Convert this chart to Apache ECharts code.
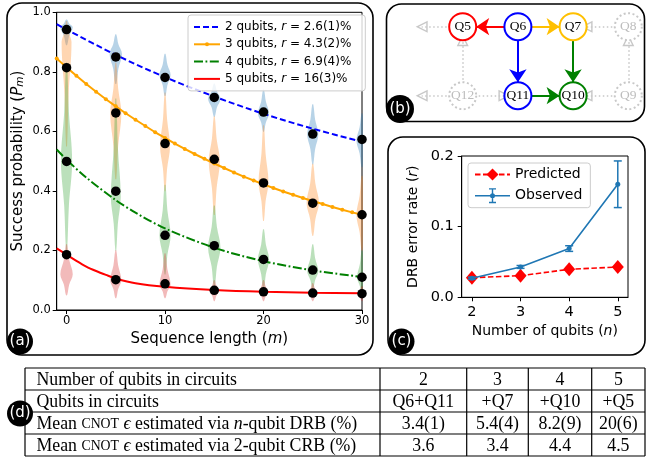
<!DOCTYPE html>
<html><head><meta charset="utf-8">
<script src="https://cdn.jsdelivr.net/npm/echarts@6/dist/echarts.min.js"></script>
<style>html,body{margin:0;padding:0;background:#fff}#c{width:647px;height:461px}</style>
</head><body><div id="c"></div>
<script>
// ---------- Panel (a) data ----------
const seqLen = [0, 5, 10, 15, 20, 25, 30];
const mean2q = [0.942, 0.850, 0.781, 0.714, 0.665, 0.591, 0.573];
const mean3q = [0.814, 0.662, 0.559, 0.506, 0.427, 0.359, 0.320];
const mean4q = [0.499, 0.399, 0.251, 0.216, 0.170, 0.134, 0.110];
const mean5q = [0.186, 0.102, 0.088, 0.066, 0.061, 0.057, 0.055];

const fitM2 = [-1, 0, 5, 10, 15, 20, 25, 30];
const fit2q = [0.960, 0.942, 0.857, 0.782, 0.717, 0.659, 0.609, 0.565];
const fitM3 = [-1,0,1,2,3,4,5,6,7,8,9,10,11,12,13,14,15,16,17,18,19,20,21,22,23,24,25,26,27,28,29,30];
const fit3q = [0.845,0.815,0.787,0.759,0.733,0.708,0.684,0.661,0.639,0.618,0.597,0.578,0.559,0.541,0.524,0.508,0.492,0.477,0.462,0.448,0.435,0.422,0.410,0.398,0.387,0.376,0.366,0.356,0.346,0.337,0.328,0.320];
const fitM4 = [-1, 0, 2, 5, 7, 10, 15, 20, 25, 30];
const fit4q = [0.539, 0.505, 0.445, 0.369, 0.327, 0.274, 0.209, 0.164, 0.133, 0.111];
const fitM5 = [-1, 0, 1, 2, 3, 4, 5, 7, 10, 15, 20, 25, 30];
const fit5q = [0.207, 0.186, 0.165, 0.146, 0.131, 0.118, 0.106, 0.090, 0.078, 0.067, 0.061, 0.058, 0.056];

// violin: [m, low, peak, high, relative width]
const violin2q = [[0,0.89,0.95,0.975,1],[5,0.76,0.86,0.925,1],[10,0.72,0.79,0.86,0.9],[15,0.65,0.71,0.76,1],[20,0.60,0.66,0.74,0.9],[25,0.49,0.59,0.69,0.9],[30,0.48,0.57,0.66,0.9]];
const violin3q = [[0,0.55,0.90,0.97,0.8],[5,0.44,0.66,0.83,0.9],[10,0.40,0.55,0.73,0.8],[15,0.32,0.50,0.65,0.9],[20,0.30,0.43,0.62,0.8],[25,0.25,0.36,0.49,1],[30,0.20,0.32,0.45,0.9]];
const violin4q = [[0,0.20,0.50,0.83,0.9],[5,0.20,0.38,0.71,0.8],[10,0.12,0.25,0.42,0.9],[15,0.08,0.21,0.35,1],[20,0.07,0.17,0.27,0.9],[25,0.07,0.13,0.22,0.9],[30,0.05,0.11,0.20,0.8]];
const violin5q = [[0,0.05,0.12,0.22,1],[5,0.04,0.10,0.20,0.9],[10,0.04,0.085,0.19,0.9],[15,0.03,0.065,0.10,0.8],[20,0.03,0.06,0.10,0.8],[25,0.03,0.055,0.09,0.8],[30,0.03,0.055,0.08,0.8]];

const seriesLabels = ['2 qubits', '3 qubits', '4 qubits', '5 qubits'];
const rateLabels = ['2.6(1)%', '4.3(2)%', '6.9(4)%', '16(3)%'];
const xTicksA = [0, 10, 20, 30];

// ---------- Panel (b) data ----------
const qubitNames = ['Q5', 'Q6', 'Q7', 'Q8', 'Q12', 'Q11', 'Q10', 'Q9'];
const qubitCol = [1, 2, 3, 4, 1, 2, 3, 4];
const qubitRow = [0, 0, 0, 0, 1, 1, 1, 1];
const outerNames = ['W0', 'W1'];
const outerCol = [0.257, 0.257];
const outerRow = [0, 1];
const activeLinks = [['Q6','Q5'], ['Q6','Q7'], ['Q6','Q11'], ['Q7','Q10'], ['Q11','Q10']];
const idleLinks = [['Q5','W0'], ['Q12','W1'], ['Q12','Q5'], ['Q12','Q11'], ['Q8','Q7'], ['Q9','Q10'], ['Q9','Q8']];

// ---------- Panel (c) data ----------
const nQubits = [2, 3, 4, 5];
const predicted = [0.0277, 0.0306, 0.0396, 0.0429];
const observed = [0.027, 0.043, 0.069, 0.160];
const observedErr = [0.0015, 0.002, 0.004, 0.033];
const xTicksC = [2, 3, 4, 5];

// ---------- Panel (d) data ----------
const rowHeaders = ['Number of qubits in circuits', 'Qubits in circuits',
  'Mean {sc|CNOT} {i|ϵ} estimated via {i|n}-qubit DRB (%)',
  'Mean {sc|CNOT} {i|ϵ} estimated via 2-qubit CRB (%)'];
const rowQubitCount = ['2', '3', '4', '5'];
const rowQubitsAdded = ['Q6+Q11', '+Q7', '+Q10', '+Q5'];
const rowDrbEps = ['3.4(1)', '5.4(4)', '8.2(9)', '20(6)'];
const rowCrbEps = ['3.6', '3.4', '4.4', '4.5'];

// ---------- styles ----------
const SANS = 'DejaVu Sans';
const SERIF = 'Liberation Serif';
const fitColors = ['#0000ff', '#ffa500', '#008000', '#ff0000'];
const violinColors = ['rgba(31,119,180,0.32)', 'rgba(255,127,14,0.32)', 'rgba(44,160,44,0.32)', 'rgba(214,39,40,0.32)'];
const nodeColor = {Q5:'#ff0000', Q6:'#0000ff', Q7:'#ffc000', Q10:'#008000', Q11:'#0000ff'};
const linkColor = {'Q6-Q5':'#ff0000', 'Q6-Q7':'#ffc000', 'Q6-Q11':'#0000ff', 'Q7-Q10':'#008000', 'Q11-Q10':'#008000'};
const GRAY = '#c8c8c8';
const hollowTri = 'path://M5,0 L10,10 L0,10 Z M5,2.6 L1.9,8.8 L8.1,8.8 Z';

const chart = echarts.init(document.getElementById('c'), null, {renderer: 'canvas', width: 647, height: 461});

function violinRender(color) {
  return function (params, api) {
    const m = api.value(0), lo = api.value(1), pk = api.value(2), hi = api.value(3);
    const w = api.value(4) * 6.2;
    const ys = [lo, lo + 0.5 * (pk - lo), pk, pk + 0.5 * (hi - pk), hi];
    const hs = [0.1, 0.42, 1, 0.42, 0.1];
    const pts = [];
    for (let i = 0; i < 5; i++) { const c = api.coord([m, ys[i]]); pts.push([c[0] - hs[i] * w, c[1]]); }
    for (let i = 4; i >= 0; i--) { const c = api.coord([m, ys[i]]); pts.push([c[0] + hs[i] * w, c[1]]); }
    return {type: 'polygon', shape: {points: pts, smooth: 0.35}, style: {fill: color}};
  };
}

const meansAll = [mean2q, mean3q, mean4q, mean5q];
const violinsAll = [violin2q, violin3q, violin4q, violin5q];
const fitsAll = [[fitM2, fit2q], [fitM3, fit3q], [fitM4, fit4q], [fitM5, fit5q]];
const fitLineType = [[6, 3], 'solid', [9, 2.5, 1.8, 2.5], 'solid'];

const series = [];
violinsAll.forEach((v, k) => series.push({
  type: 'custom', xAxisIndex: 0, yAxisIndex: 0, clip: true, z: 1, silent: true,
  renderItem: violinRender(violinColors[k]), data: v
}));
fitsAll.forEach(([ms, vs], k) => series.push({
  type: 'line', name: seriesLabels[k], xAxisIndex: 0, yAxisIndex: 0, z: 3,
  data: ms.map((m, i) => [m, vs[i]]), smooth: k === 1 ? false : 0.3,
  // only the 3-qubit fit carries visible markers
  symbol: k === 1 ? 'circle' : 'line', symbolSize: 4, showSymbol: k === 1,
  itemStyle: {color: fitColors[k]},
  lineStyle: {color: fitColors[k], width: 2, type: fitLineType[k]}
}));
meansAll.forEach((vs, k) => series.push({
  type: 'scatter', xAxisIndex: 0, yAxisIndex: 0, z: 5, symbolSize: 9.5,
  itemStyle: {color: '#000', opacity: 1}, data: seqLen.map((m, i) => [m, vs[i]])
}));

// panel (c)
series.push({
  type: 'line', name: 'Predicted', xAxisIndex: 1, yAxisIndex: 1, z: 4,
  data: nQubits.map((n, i) => [n, predicted[i]]), symbol: 'diamond', symbolSize: [12, 14],
  itemStyle: {color: '#ff0000'}, lineStyle: {color: '#ff0000', width: 1.6, type: [5.5, 2.5]}
});
series.push({
  type: 'line', name: 'Observed', xAxisIndex: 1, yAxisIndex: 1, z: 5,
  data: nQubits.map((n, i) => [n, observed[i]]), symbol: 'circle', symbolSize: 5,
  itemStyle: {color: '#1f77b4'}, lineStyle: {color: '#1f77b4', width: 1.6}
});
series.push({
  type: 'custom', xAxisIndex: 1, yAxisIndex: 1, z: 5, silent: true,
  data: nQubits.map((n, i) => [n, observed[i] - observedErr[i], observed[i] + observedErr[i]]),
  renderItem: function (params, api) {
    const x = api.value(0);
    const a = api.coord([x, api.value(1)]), b = api.coord([x, api.value(2)]);
    const cw = 4, st = {stroke: '#1f77b4', lineWidth: 1.5};
    return {type: 'group', children: [
      {type: 'line', shape: {x1: a[0], y1: a[1], x2: b[0], y2: b[1]}, style: st},
      {type: 'line', shape: {x1: a[0] - cw, y1: a[1], x2: a[0] + cw, y2: a[1]}, style: st},
      {type: 'line', shape: {x1: b[0] - cw, y1: b[1], x2: b[0] + cw, y2: b[1]}, style: st}
    ]};
  }
});

// panel (b) graph
const graphNodes = qubitNames.map((q, i) => {
  const c = nodeColor[q];
  return {
    name: q, value: [qubitCol[i], qubitRow[i]], symbol: 'circle', symbolSize: 27,
    itemStyle: {color: '#fff', borderColor: c || GRAY, borderWidth: 2, borderType: c ? 'solid' : [2, 2.5]},
    label: {show: true, position: 'inside', formatter: '{b}', fontFamily: SERIF, fontSize: 13.5, color: c ? '#000' : '#bdbdbd'}
  };
}).concat(outerNames.map((q, i) => ({name: q, value: [outerCol[i], outerRow[i]], symbol: 'none', symbolSize: 0, label: {show: false}})));
const graphLinks = activeLinks.map(([s, t]) => ({
  source: s, target: t, symbol: ['none', 'arrow'], symbolSize: [1, 13],
  lineStyle: {color: linkColor[s + '-' + t], width: 2, type: 'solid', opacity: 1}
})).concat(idleLinks.map(([s, t]) => ({
  source: s, target: t, symbol: ['none', hollowTri], symbolSize: [1, 12],
  lineStyle: {color: GRAY, width: 1.6, type: [1.5, 2.5], opacity: 1}
})));
series.push({
  type: 'graph', coordinateSystem: 'cartesian2d', xAxisIndex: 2, yAxisIndex: 2, layout: 'none', z: 6,
  roam: false, silent: true, data: graphNodes, links: graphLinks, edgeSymbol: ['none', 'arrow']
});

function axisCommon(extra) {
  return Object.assign({
    type: 'value', splitLine: {show: false},
    axisLine: {show: true, onZero: false, lineStyle: {color: '#000', width: 1}},
    axisTick: {show: true, length: 4, lineStyle: {color: '#000'}}
  }, extra);
}
const richA = {
  t: {fontFamily: SANS, fontSize: 15, color: '#000'},
  i: {fontFamily: SANS, fontSize: 15, fontStyle: 'italic', color: '#000'},
  s: {fontFamily: SANS, fontSize: 10.5, fontStyle: 'italic', color: '#000', verticalAlign: 'bottom', lineHeight: 14}
};
const richC = {
  t: {fontFamily: SANS, fontSize: 14, color: '#000'},
  i: {fontFamily: SANS, fontSize: 14, fontStyle: 'italic', color: '#000'}
};

const legendRich = {
  t: {fontFamily: SANS, fontSize: 12, color: '#000', lineHeight: 14},
  i: {fontFamily: SANS, fontSize: 12, fontStyle: 'italic', color: '#000', lineHeight: 14}
};

const option = {
  animation: false,
  backgroundColor: '#fff',
  textStyle: {fontFamily: SANS},
  grid: [
    {left: 56.7, top: 12.3, width: 305.3, height: 297.7, show: true, borderColor: '#000', borderWidth: 1, backgroundColor: 'transparent'},
    {left: 461.7, top: 156, width: 166.3, height: 141.3, show: true, borderColor: '#000', borderWidth: 1, backgroundColor: 'transparent'},
    {left: 407.5, top: 26.7, width: 220.8, height: 69, show: false}
  ],
  xAxis: [
    axisCommon({gridIndex: 0, min: -1, max: 30,
      axisTick: {show: true, length: 4, customValues: xTicksA, lineStyle: {color: '#000'}},
      axisLabel: {customValues: xTicksA, color: '#000', fontSize: 11.5, margin: 5, fontFamily: SANS},
      name: '{t|Sequence length (}{i|m}{t|)}', nameLocation: 'middle', nameGap: 22,
      nameTextStyle: {rich: richA}}),
    axisCommon({gridIndex: 1, min: 1.79, max: 5.21,
      axisTick: {show: true, length: 4, customValues: xTicksC, lineStyle: {color: '#000'}},
      axisLabel: {customValues: xTicksC, color: '#000', fontSize: 14.5, margin: 7, fontFamily: SANS},
      name: '{t|Number of qubits (}{i|n}{t|)}', nameLocation: 'middle', nameGap: 27,
      nameTextStyle: {rich: richC}}),
    {gridIndex: 2, type: 'value', min: 0, max: 4, show: false}
  ],
  yAxis: [
    axisCommon({gridIndex: 0, min: 0, max: 1, interval: 0.2,
      axisLabel: {color: '#000', fontSize: 11.5, margin: 6, fontFamily: SANS, formatter: v => v.toFixed(1)},
      name: '{t|Success probability (}{i|P}{s|m}{t|)}', nameLocation: 'middle', nameGap: 31,
      nameTextStyle: {rich: richA}}),
    axisCommon({gridIndex: 1, min: 0, max: 0.2, interval: 0.1,
      axisLabel: {color: '#000', fontSize: 14.5, margin: 8, fontFamily: SANS, formatter: v => v.toFixed(1)},
      name: '{t|DRB error rate (}{i|r}{t|)}', nameLocation: 'middle', nameGap: 41,
      nameTextStyle: {rich: richC}}),
    {gridIndex: 2, type: 'value', min: 0, max: 1, inverse: true, show: false}
  ],
  legend: [
    {
      data: seriesLabels.map((n, k) => k === 1 ? {name: n} : {name: n, itemStyle: {color: 'rgba(0,0,0,0)', borderColor: 'rgba(0,0,0,0)'}}),
      orient: 'vertical', left: 188, top: 15,
      itemWidth: 26, itemHeight: 5, itemGap: 5.3, padding: [6, 14, 6, 5],
      backgroundColor: 'rgba(255,255,255,0.8)', borderColor: '#cccccc', borderWidth: 1, borderRadius: 3,
      selectedMode: false,
      formatter: name => '{t|' + name + ', }{i|r}{t| = ' + rateLabels[seriesLabels.indexOf(name)] + '}',
      textStyle: {rich: legendRich}
    },
    {
      data: [{name: 'Predicted'}, {name: 'Observed',
        icon: 'path://M0,6.8 L35,6.8 L35,8.2 L0,8.2 Z M16.8,0 L18.2,0 L18.2,15 L16.8,15 Z M14,0 L21,0 L21,1.4 L14,1.4 Z M14,13.6 L21,13.6 L21,15 L14,15 Z M15,7.5 A2.5,2.5 0 1,1 20,7.5 A2.5,2.5 0 1,1 15,7.5 Z'}],
      orient: 'vertical', left: 468, top: 163,
      itemWidth: 35, itemHeight: 15, itemGap: 6.7, padding: [4.5, 8, 4.5, 6],
      backgroundColor: 'rgba(255,255,255,0.8)', borderColor: '#cccccc', borderWidth: 1, borderRadius: 3,
      selectedMode: false,
      textStyle: {fontFamily: SANS, fontSize: 14, color: '#000'}
    }
  ],
  series: series
};

// ---------- frames, panel labels, table ----------
const graphics = [];
function frame(x, y, w, h) {
  graphics.push({type: 'rect', silent: true, z: 100, shape: {x: x, y: y, width: w, height: h, r: 15},
    style: {fill: 'none', stroke: '#000', lineWidth: 1.6}});
}
frame(7, 3, 366, 352);
frame(386.5, 4, 258, 117.5);
frame(388, 137, 257, 218);
function tag(cx, cy, r, txt) {
  graphics.push({type: 'circle', silent: true, z: 101, shape: {cx: cx, cy: cy, r: r}, style: {fill: '#000'}});
  graphics.push({type: 'text', silent: true, z: 102, style: {text: txt, x: cx, y: cy, align: 'center', verticalAlign: 'middle',
    fill: '#fff', fontFamily: SANS, fontSize: 15}});
}
tag(20, 341.5, 13, '(a)');
tag(400, 109, 14, '(b)');
tag(401.5, 341.5, 13, '(c)');
tag(20, 413.5, 13, '(d)');

// table
const tTop = 368, rowH = 22;
const colEdges = [25, 380, 466.7, 528.3, 591.7, 645];
const nRows = rowHeaders.length;
for (let r = 0; r <= nRows; r++) {
  graphics.push({type: 'line', silent: true, z: 90, shape: {x1: colEdges[0], y1: tTop + r * rowH, x2: colEdges[5], y2: tTop + r * rowH},
    style: {stroke: '#000', lineWidth: 1.2}});
}
colEdges.forEach(x => graphics.push({type: 'line', silent: true, z: 90,
  shape: {x1: x, y1: tTop, x2: x, y2: tTop + nRows * rowH}, style: {stroke: '#000', lineWidth: 1.2}}));
const TF = 17.8;
const serifRich = {
  sc: {fontFamily: SERIF, fontSize: 13.8, color: '#000'},
  i: {fontFamily: SERIF, fontSize: TF, fontStyle: 'italic', color: '#000'}
};
const bodyRows = [rowQubitCount, rowQubitsAdded, rowDrbEps, rowCrbEps];
rowHeaders.forEach((h, r) => {
  const cy = tTop + r * rowH + rowH / 2 + 1;
  graphics.push({type: 'text', silent: true, z: 91, style: {text: h, x: 36.5, y: cy, align: 'left', verticalAlign: 'middle',
    fill: '#000', fontFamily: SERIF, fontSize: TF, rich: serifRich}});
  bodyRows[r].forEach((v, c) => {
    graphics.push({type: 'text', silent: true, z: 91, style: {text: v, x: (colEdges[c + 1] + colEdges[c + 2]) / 2, y: cy,
      align: 'center', verticalAlign: 'middle', fill: '#000', fontFamily: SERIF, fontSize: TF}});
  });
});
option.graphic = graphics;

chart.setOption(option);
</script>
</body></html>
